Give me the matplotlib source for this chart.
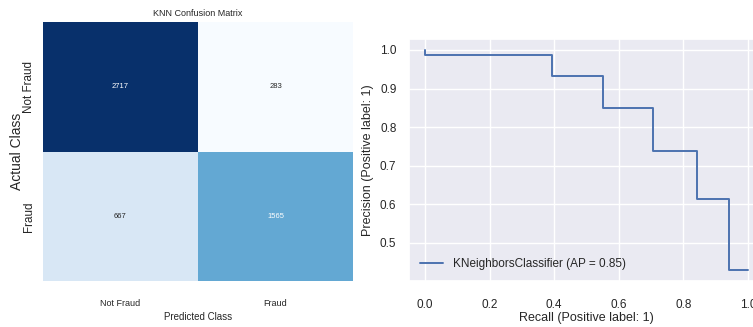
import numpy as np
import matplotlib
matplotlib.use("Agg")
import matplotlib.pyplot as plt
import seaborn as sns

# confusion matrix counts (rows = actual, cols = predicted)
class_names = ["Not Fraud", "Fraud"]
cm_row_not_fraud = [2717, 283]
cm_row_fraud = [667, 1565]

# precision-recall curve points, as returned by sklearn (recall descending)
recall = [1.0, 0.943, 0.842, 0.706, 0.551, 0.393, 0.0]
precision = [0.429, 0.612, 0.737, 0.850, 0.932, 0.988, 1.0]
avg_precision = 0.85


def main():
    sns.set_theme(style="darkgrid")
    plt.rcParams["font.family"] = ["Liberation Sans", "DejaVu Sans"]

    W, H = 753, 327
    fig = plt.figure(figsize=(W / 100, H / 100), dpi=100)

    # left: confusion matrix heatmap
    ax1 = fig.add_axes([43 / W, 46 / H, 310 / W, 259 / H])
    cm = np.array([cm_row_not_fraud, cm_row_fraud])
    sns.heatmap(cm, annot=True, fmt="d", cmap="Blues", cbar=False,
                xticklabels=class_names, yticklabels=class_names,
                annot_kws={"fontsize": 5.5}, ax=ax1)
    ax1.set_title("KNN Confusion Matrix", fontsize=6.5, pad=4)
    ax1.set_xlabel("Predicted Class", fontsize=7, labelpad=3)
    ax1.set_ylabel("Actual Class", fontsize=10, labelpad=-1)
    ax1.tick_params(axis="x", labelsize=6.5, pad=7)
    ax1.tick_params(axis="y", labelsize=8.4, pad=0)
    plt.setp(ax1.get_yticklabels(), rotation=90, va="center")

    # right: precision-recall curve
    ax2 = fig.add_axes([409 / W, 46 / H, 355 / W, 242 / H])
    ax2.plot(recall, precision, drawstyle="steps-post", color="#4C72B0", lw=1.4,
             label="KNeighborsClassifier (AP = %.2f)" % avg_precision)
    ax2.set_xlabel("Recall (Positive label: 1)", fontsize=9, labelpad=1)
    ax2.set_ylabel("Precision (Positive label: 1)", fontsize=9, labelpad=4)
    ax2.tick_params(axis="x", labelsize=8.5, pad=7)
    ax2.tick_params(axis="y", labelsize=8.5, pad=3)
    ax2.set_xticks([0.0, 0.2, 0.4, 0.6, 0.8, 1.0])
    ax2.legend(loc="lower left", fontsize=8.5, frameon=False)

    fig.savefig("out.png", dpi=100)


if __name__ == "__main__":
    main()
